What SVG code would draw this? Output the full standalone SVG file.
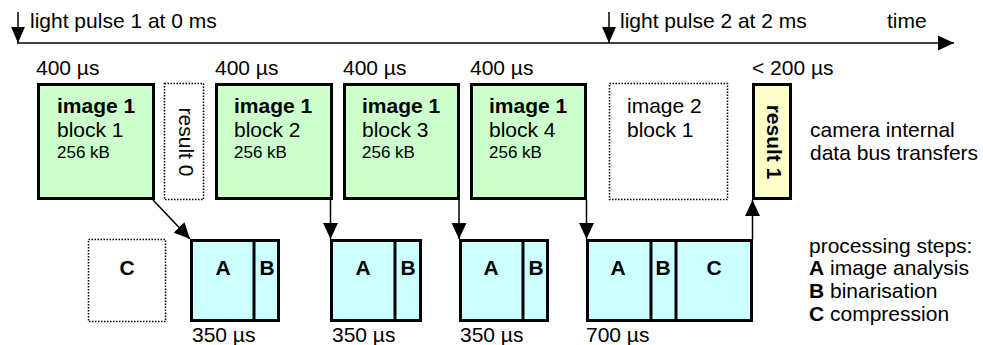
<svg xmlns="http://www.w3.org/2000/svg" width="983" height="345" viewBox="0 0 983 345">
<style>
text{font-family:"Liberation Sans",Arial,sans-serif;font-size:21px;fill:#000}
.b{font-weight:bold}
.s{font-size:17px}
.m{text-anchor:middle}
.green{fill:#CCFFCC;stroke:#000;stroke-width:3}
.cyan{fill:#CCFFFF;stroke:#000;stroke-width:3}
.yel{fill:#FFFFCC;stroke:#000;stroke-width:3}
.dot{fill:#fff;stroke:#000;stroke-width:1.5;stroke-dasharray:1.5 1.5}
.div{stroke:#000;stroke-width:3}
.con{stroke:#000;stroke-width:1.5;fill:none}
</style>
<defs>
<marker id="ah" markerUnits="userSpaceOnUse" markerWidth="16" markerHeight="16" viewBox="0 0 15 14" refX="15" refY="7" orient="auto">
<path d="M0,0 L15,7 L0,14 Z" fill="#000"/>
</marker>
<marker id="ahs" markerUnits="userSpaceOnUse" markerWidth="16" markerHeight="16" viewBox="0 0 15 13" refX="15" refY="6.5" orient="auto">
<path d="M0,0 L15,6.5 L0,13 Z" fill="#000"/>
</marker>
</defs>

<g id="timeline">
<line class="con" x1="17" y1="43" x2="954" y2="43" marker-end="url(#ah)"/>
<text x="887" y="28">time</text>
</g>
<g id="pulse1">
<line class="con" x1="18" y1="12" x2="18" y2="43" marker-end="url(#ahs)"/>
<text x="30" y="28">light pulse 1 at 0 ms</text>
</g>
<g id="pulse2">
<line class="con" x1="609" y1="12" x2="609" y2="43" marker-end="url(#ahs)"/>
<text x="620" y="28">light pulse 2 at 2 ms</text>
</g>

<g id="block1">
<text x="36" y="75">400 µs</text>
<rect class="green" x="38.5" y="84.5" width="115" height="114"/>
<text class="b" x="57" y="113">image 1</text>
<text x="57" y="137">block 1</text>
<text class="s" x="57" y="158">256 kB</text>
</g>
<g id="result0">
<rect class="dot" x="164.5" y="83.5" width="39" height="116"/>
<text class="m" transform="translate(179,142) rotate(90)">result 0</text>
</g>
<g id="block2">
<text x="215" y="75">400 µs</text>
<rect class="green" x="216.5" y="84.5" width="115" height="114"/>
<text class="b" x="234" y="113">image 1</text>
<text x="234" y="137">block 2</text>
<text class="s" x="234" y="158">256 kB</text>
</g>
<g id="block3">
<text x="343" y="75">400 µs</text>
<rect class="green" x="344.5" y="84.5" width="114" height="114"/>
<text class="b" x="362" y="113">image 1</text>
<text x="362" y="137">block 3</text>
<text class="s" x="362" y="158">256 kB</text>
</g>
<g id="block4">
<text x="470" y="75">400 µs</text>
<rect class="green" x="471.5" y="84.5" width="114" height="114"/>
<text class="b" x="489" y="113">image 1</text>
<text x="489" y="137">block 4</text>
<text class="s" x="489" y="158">256 kB</text>
</g>
<g id="image2block1">
<rect class="dot" x="609.5" y="83.5" width="118" height="116"/>
<text x="627" y="113">image 2</text>
<text x="627" y="137">block 1</text>
</g>
<g id="result1">
<text x="752" y="75">&lt; 200 µs</text>
<rect class="yel" x="753.5" y="84.5" width="37" height="114"/>
<text class="b m" transform="translate(767,142) rotate(90)">result 1</text>
</g>
<g id="bus-label">
<text x="810" y="137">camera internal</text>
<text x="810" y="160">data bus transfers</text>
</g>

<g id="procC0">
<rect class="dot" x="88.5" y="239.5" width="77" height="82"/>
<text class="b m" x="127" y="275">C</text>
</g>
<g id="proc1">
<rect class="cyan" x="191.5" y="240.5" width="87" height="80"/>
<line class="div" x1="254" y1="240" x2="254" y2="321"/>
<text class="b m" x="223" y="275">A</text>
<text class="b m" x="267" y="275">B</text>
<text x="192" y="342">350 µs</text>
</g>
<g id="proc2">
<rect class="cyan" x="331.5" y="240.5" width="89" height="80"/>
<line class="div" x1="395" y1="240" x2="395" y2="321"/>
<text class="b m" x="363" y="275">A</text>
<text class="b m" x="408" y="275">B</text>
<text x="332" y="342">350 µs</text>
</g>
<g id="proc3">
<rect class="cyan" x="460.5" y="240.5" width="87" height="80"/>
<line class="div" x1="523" y1="240" x2="523" y2="321"/>
<text class="b m" x="491" y="275">A</text>
<text class="b m" x="536" y="275">B</text>
<text x="460" y="342">350 µs</text>
</g>
<g id="proc4">
<rect class="cyan" x="587.5" y="240.5" width="164" height="80"/>
<line class="div" x1="651" y1="240" x2="651" y2="321"/>
<line class="div" x1="676" y1="240" x2="676" y2="321"/>
<text class="b m" x="618" y="275">A</text>
<text class="b m" x="663" y="275">B</text>
<text class="b m" x="714" y="275">C</text>
<text x="586" y="342">700 µs</text>
</g>
<g id="legend">
<text x="809" y="253">processing steps:</text>
<text x="809" y="275"><tspan class="b">A</tspan> image analysis</text>
<text x="809" y="298"><tspan class="b">B</tspan> binarisation</text>
<text x="809" y="321"><tspan class="b">C</tspan> compression</text>
</g>

<g id="connectors">
<line class="con" x1="153" y1="200" x2="190" y2="239" marker-end="url(#ah)"/>
<line class="con" x1="330.5" y1="200" x2="330.5" y2="239" marker-end="url(#ah)"/>
<line class="con" x1="459" y1="200" x2="459" y2="239" marker-end="url(#ah)"/>
<line class="con" x1="586.5" y1="200" x2="586.5" y2="239" marker-end="url(#ah)"/>
<line class="con" x1="752.5" y1="239" x2="752.5" y2="200" marker-end="url(#ah)"/>
</g>
</svg>
